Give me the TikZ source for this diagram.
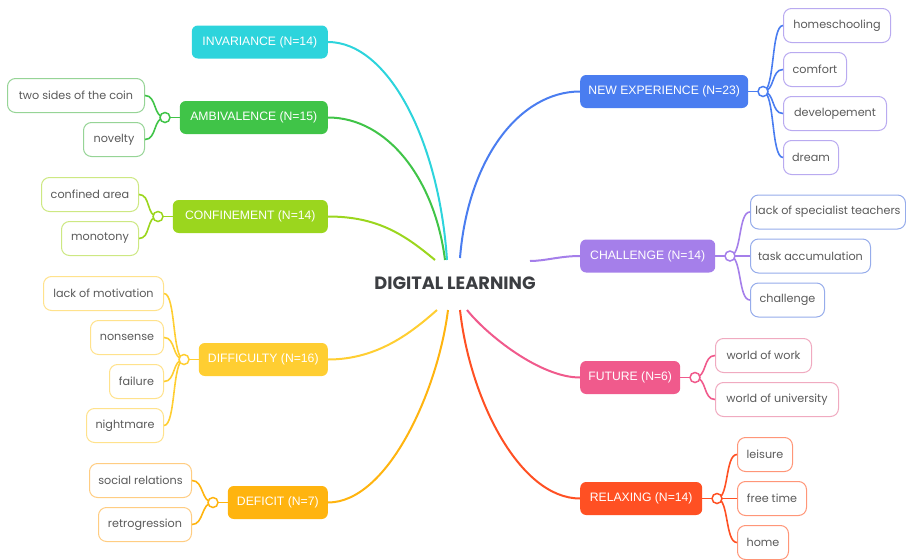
\documentclass[tikz,border=0pt]{standalone}
\usepackage{fontspec}
\setmainfont{Poppins}
\newfontfamily\mainfnt{Liberation Sans}
\definecolor{cInv}{RGB}{45,212,220}
\definecolor{cAmb}{RGB}{64,196,72}
\definecolor{cCon}{RGB}{155,214,30}
\definecolor{cDif}{RGB}{255,206,50}
\definecolor{cDef}{RGB}{255,180,15}
\definecolor{cNew}{RGB}{74,125,240}
\definecolor{cCha}{RGB}{165,127,234}
\definecolor{cFut}{RGB}{240,90,140}
\definecolor{cRel}{RGB}{255,80,35}
\definecolor{lAmb}{RGB}{150,212,150}
\definecolor{lCon}{RGB}{205,232,130}
\definecolor{lDif}{RGB}{255,226,140}
\definecolor{lDef}{RGB}{255,205,130}
\definecolor{lNew}{RGB}{185,170,240}
\definecolor{lCha}{RGB}{150,172,235}
\definecolor{lFut}{RGB}{240,170,192}
\definecolor{lRel}{RGB}{255,150,120}
\definecolor{leaftext}{RGB}{90,90,90}
\definecolor{titletext}{RGB}{60,62,66}
\begin{document}
\begin{tikzpicture}[x=1pt,y=-1pt,
  mainbox/.style={rounded corners=6pt, fill=#1, text=white, minimum height=33pt, inner sep=0pt, font=\mainfnt\fontsize{12.2}{14}\selectfont},
  leafbox/.style={rounded corners=8pt, draw=#1, line width=1pt, fill=white, text=leaftext, minimum height=34pt, inner sep=0pt, font=\fontsize{11.2}{13}\selectfont},
  trunk/.style={line width=2pt, draw=#1},
  twig/.style={line width=1.6pt, draw=#1},
  knot/.style={circle, draw=#1, line width=1.5pt, fill=white, minimum size=10pt, inner sep=0pt}]
\useasboundingbox (0,0) rectangle (906,560);

% centre
\node[font=\bfseries\fontsize{17.8}{20}\selectfont, text=titletext] (dl) at (455,283) {DIGITAL LEARNING};
\coordinate (tInv) at (447,260);
\coordinate (tAmb) at (445,260);
\coordinate (tCon) at (435,260);
\coordinate (tNew) at (460,258);
\coordinate (tCha) at (530,261);
\coordinate (tDif) at (437,310);
\coordinate (tDef) at (448,310);
\coordinate (tFut) at (467,310);
\coordinate (tRel) at (460,310);

% main nodes
\node[mainbox=cInv, minimum width=136pt, anchor=east] (inv) at (328,42) {INVARIANCE (N=14)};
\node[mainbox=cAmb, minimum width=148pt, anchor=east] (amb) at (328,117.5) {AMBIVALENCE (N=15)};
\node[mainbox=cCon, minimum width=155pt, anchor=east] (con) at (328,216.5) {CONFINEMENT (N=14)};
\node[mainbox=cDif, minimum width=129pt, anchor=east] (dif) at (328,359.5) {DIFFICULTY (N=16)};
\node[mainbox=cDef, minimum width=100pt, anchor=east] (def) at (328,502.5) {DEFICIT (N=7)};
\node[mainbox=cNew, minimum width=168pt, anchor=west] (new) at (580,91.5) {NEW EXPERIENCE (N=23)};
\node[mainbox=cCha, minimum width=135pt, anchor=west] (cha) at (580,256) {CHALLENGE (N=14)};
\node[mainbox=cFut, minimum width=100pt, anchor=west] (fut) at (580,377.5) {FUTURE (N=6)};
\node[mainbox=cRel, minimum width=122pt, anchor=west] (rel) at (580,498.5) {RELAXING (N=14)};

% trunks from centre
\draw[trunk=cInv] (inv.east) .. controls +(60,0) and +(-8,-120) .. (tInv);
\draw[trunk=cAmb] (amb.east) .. controls +(60,0) and +(-10,-80) .. (tAmb);
\draw[trunk=cCon] (con.east) .. controls +(50,0) and +(-30,-25) .. (tCon);
\draw[trunk=cDif] (dif.east) .. controls +(50,0) and +(-25,22) .. (tDif);
\draw[trunk=cDef] (def.east) .. controls +(60,0) and +(-10,80) .. (tDef);
\draw[trunk=cNew] (new.west) .. controls +(-60,0) and +(8,-100) .. (tNew);
\draw[trunk=cCha] (cha.west) .. controls +(-20,0) and +(15,0) .. (tCha);
\draw[trunk=cFut] (fut.west) .. controls +(-40,0) and +(20,25) .. (tFut);
\draw[trunk=cRel] (rel.west) .. controls +(-60,0) and +(10,90) .. (tRel);

% knots
\coordinate (kAmb) at (165,117.5);
\coordinate (kCon) at (158,216.5);
\coordinate (kDif) at (184,359.5);
\coordinate (kDef) at (213,502.5);
\coordinate (kNew) at (763,91.5);
\coordinate (kCha) at (730,256);
\coordinate (kFut) at (695,377.5);
\coordinate (kRel) at (717,498.5);

% leaves left
\node[leafbox=lAmb, minimum width=137pt, anchor=east] (l1) at (145,95.5) {two sides of the coin};
\node[leafbox=lAmb, minimum width=61pt, anchor=east] (l2) at (145,139.5) {novelty};
\node[leafbox=lCon, minimum width=97pt, anchor=east] (l3) at (139,194.5) {confined area};
\node[leafbox=lCon, minimum width=77pt, anchor=east] (l4) at (139,238.5) {monotony};
\node[leafbox=lDif, minimum width=120pt, anchor=east] (l5) at (164,293.5) {lack of motivation};
\node[leafbox=lDif, minimum width=73pt, anchor=east] (l6) at (164,337.5) {nonsense};
\node[leafbox=lDif, minimum width=54pt, anchor=east] (l7) at (164,381.5) {failure};
\node[leafbox=lDif, minimum width=77pt, anchor=east] (l8) at (164,425.5) {nightmare};
\node[leafbox=lDef, minimum width=102pt, anchor=east] (l9) at (192,480.5) {social relations};
\node[leafbox=lDef, minimum width=93pt, anchor=east] (l10) at (192,524.5) {retrogression};

% leaves right
\node[leafbox=lNew, minimum width=107pt, anchor=west] (r1) at (783,25.5) {homeschooling};
\node[leafbox=lNew, minimum width=63pt, anchor=west] (r2) at (783,69.5) {comfort};
\node[leafbox=lNew, minimum width=103pt, anchor=west] (r3) at (783,113.5) {developement};
\node[leafbox=lNew, minimum width=55pt, anchor=west] (r4) at (783,157.5) {dream};
\node[leafbox=lCha, minimum width=155pt, anchor=west] (r5) at (750,212) {lack of specialist teachers};
\node[leafbox=lCha, minimum width=120pt, anchor=west] (r6) at (750,256) {task accumulation};
\node[leafbox=lCha, minimum width=74pt, anchor=west] (r7) at (750,300) {challenge};
\node[leafbox=lFut, minimum width=96pt, anchor=west] (r8) at (715,355.5) {world of work};
\node[leafbox=lFut, minimum width=123pt, anchor=west] (r9) at (715,399.5) {world of university};
\node[leafbox=lRel, minimum width=55pt, anchor=west] (r10) at (737,454.5) {leisure};
\node[leafbox=lRel, minimum width=69pt, anchor=west] (r11) at (737,498.5) {free time};
\node[leafbox=lRel, minimum width=51pt, anchor=west] (r12) at (737,542.5) {home};

% twigs left
\draw[twig=cAmb] (amb.west) -- (kAmb);
\foreach \l in {l1,l2} \draw[twig=cAmb] (kAmb) .. controls +(-12,0) and +(12,0) .. (\l.east);
\draw[twig=cCon] (con.west) -- (kCon);
\foreach \l in {l3,l4} \draw[twig=cCon] (kCon) .. controls +(-12,0) and +(12,0) .. (\l.east);
\draw[twig=cDif] (dif.west) -- (kDif);
\foreach \l in {l5,l6,l7,l8} \draw[twig=cDif] (kDif) .. controls +(-12,0) and +(12,0) .. (\l.east);
\draw[twig=cDef] (def.west) -- (kDef);
\foreach \l in {l9,l10} \draw[twig=cDef] (kDef) .. controls +(-12,0) and +(12,0) .. (\l.east);

% twigs right
\draw[twig=cNew] (new.east) -- (kNew);
\foreach \r in {r1,r2,r3,r4} \draw[twig=cNew] (kNew) .. controls +(12,0) and +(-12,0) .. (\r.west);
\draw[twig=cCha] (cha.east) -- (kCha);
\foreach \r in {r5,r6,r7} \draw[twig=cCha] (kCha) .. controls +(12,0) and +(-12,0) .. (\r.west);
\draw[twig=cFut] (fut.east) -- (kFut);
\foreach \r in {r8,r9} \draw[twig=cFut] (kFut) .. controls +(12,0) and +(-12,0) .. (\r.west);
\draw[twig=cRel] (rel.east) -- (kRel);
\foreach \r in {r10,r11,r12} \draw[twig=cRel] (kRel) .. controls +(12,0) and +(-12,0) .. (\r.west);

% knot circles on top
\node[knot=cAmb] (kAmbC) at (kAmb) {};
\node[knot=cCon] (kConC) at (kCon) {};
\node[knot=cDif] (kDifC) at (kDif) {};
\node[knot=cDef] (kDefC) at (kDef) {};
\node[knot=cNew] (kNewC) at (kNew) {};
\node[knot=cCha] (kChaC) at (kCha) {};
\node[knot=cFut] (kFutC) at (kFut) {};
\node[knot=cRel] (kRelC) at (kRel) {};
\end{tikzpicture}
\end{document}
